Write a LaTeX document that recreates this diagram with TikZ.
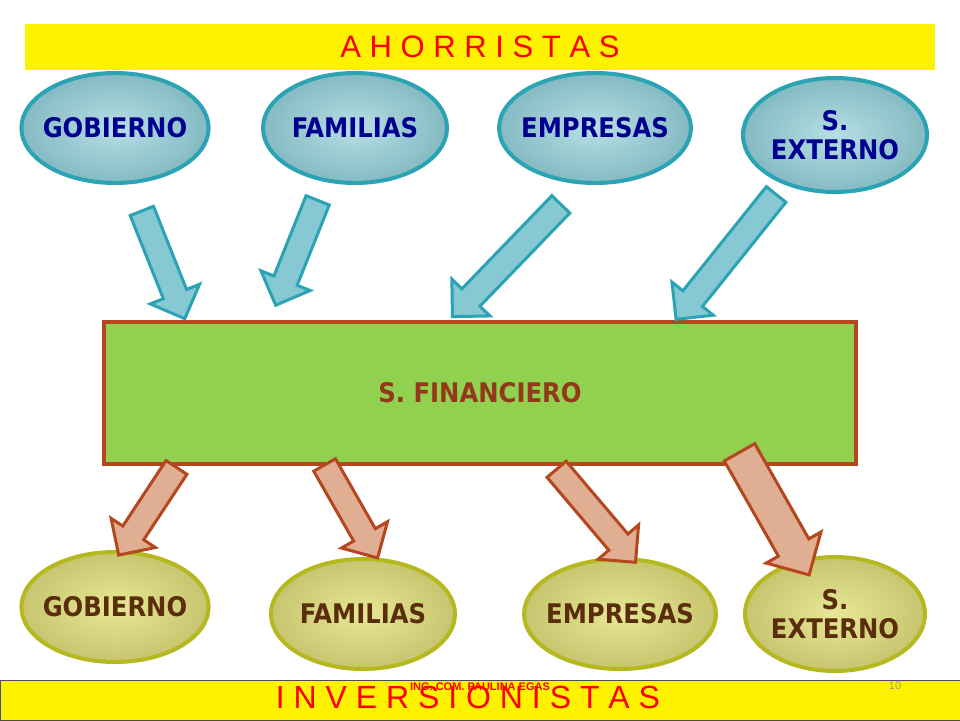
\documentclass[tikz,border=0pt]{standalone}
\usepackage{fontspec}
\setmainfont{DejaVu Sans Condensed}
\newfontfamily\lib{Liberation Sans}
\usetikzlibrary{shapes.geometric,shapes.arrows}
\definecolor{tealb}{HTML}{2AA3B4}
\definecolor{tealf}{HTML}{86C9D3}
\definecolor{olb}{HTML}{B5B81E}
\definecolor{olf}{HTML}{C7C56F}
\definecolor{brn}{HTML}{B5471F}
\definecolor{salm}{HTML}{DFAE93}
\definecolor{grn}{HTML}{92D050}
\definecolor{navy}{HTML}{000090}
\definecolor{dbrn}{HTML}{5A2D0C}
\tikzset{
 topell/.style={ellipse,draw=tealb,line width=4pt,inner color=tealf!60!white,outer color=tealf!80!gray,inner sep=-6pt,
   minimum width=184pt,minimum height=110pt,font=\bfseries\fontsize{27}{29}\selectfont,text=navy,align=center},
 botell/.style={ellipse,draw=olb,line width=4pt,inner color=yellow!30!olf!60!white,outer color=olf,inner sep=-6pt,
   minimum width=184pt,minimum height=110pt,font=\bfseries\fontsize{27}{29}\selectfont,text=dbrn,align=center},
 uparr/.style={single arrow,draw=tealb,fill=tealf,line width=3pt,inner sep=0pt,inner ysep=11pt,
   single arrow head extend=14pt,single arrow head indent=0pt},
 dnarr/.style={single arrow,draw=brn,fill=salm,line width=3pt,inner sep=0pt,inner ysep=11pt,
   single arrow head extend=14pt,single arrow head indent=0pt},
}
\begin{document}
\begin{tikzpicture}[x=1pt,y=-1pt]
\useasboundingbox (0,0) rectangle (960,720);
\fill[white] (0,0) rectangle (960,720);
\node[fill=yellow,minimum width=910pt,minimum height=46pt,inner sep=0pt,text=red,font=\lib\fontsize{31}{33}\selectfont] (top) at (480,47) {A H O R R I S T A S};
\node[fill=yellow,draw=black!70,line width=0.8pt,minimum width=960pt,minimum height=40pt,inner sep=0pt] (bot) at (480,700) {};
\node[text=red,font=\lib\fontsize{32}{34}\selectfont] (inv) at (468,697) {I N V E R S I O N I S T A S};
\node[text=red,font=\lib\bfseries\fontsize{11}{12}\selectfont] (ing) at (480,687) {ING. COM. PAULINA EGAS};
\node[text=black!40,font=\lib\fontsize{11}{12}\selectfont] (pg) at (895,686) {10};
\node[draw=brn,fill=grn,line width=4pt,minimum width=752pt,minimum height=142pt,text=brn!80!black,font=\bfseries\fontsize{27}{30}\selectfont] (fin) at (480,393) {S. FINANCIERO};
\node[topell] (t1) at (115,128) {GOBIERNO};
\node[topell] (t2) at (355,128) {FAMILIAS};
\node[topell] (t3) at (595,128) {EMPRESAS};
\node[topell,minimum height=114pt] (t4) at (835,135) {S.\\EXTERNO};
\node[botell] (b1) at (115,607) {GOBIERNO};
\node[botell] (b2) at (363,614) {FAMILIAS};
\node[botell] (b3) at (620,614) {EMPRESAS};
\node[botell,minimum width=180pt,minimum height=114pt] (b4) at (835,614) {S.\\EXTERNO};
\node[uparr,minimum height=116pt,minimum width=50pt,rotate=-68.3] (a1) at (161,259) {};
\node[uparr,minimum height=113pt,minimum width=50pt,rotate=-111.8] (a2) at (299,247) {};
\node[uparr,minimum height=156pt,minimum width=50pt,rotate=-134] (a3) at (511,256) {};
\node[uparr,minimum height=160pt,minimum width=50pt,rotate=-128.7] (a4) at (730,252) {};
\node[dnarr,minimum height=105pt,minimum width=50pt,rotate=-123.4] (d1) at (151,506) {};
\node[dnarr,minimum height=107pt,minimum width=50pt,rotate=-60.3] (d2) at (348,506) {};
\node[dnarr,minimum height=122pt,minimum width=50pt,rotate=-49.7] (d3) at (592,511) {};
\node[dnarr,minimum height=141pt,minimum width=62pt,inner ysep=16pt,single arrow head extend=14pt,rotate=-60.4] (d4) at (770,506) {};
\end{tikzpicture}
\end{document}
